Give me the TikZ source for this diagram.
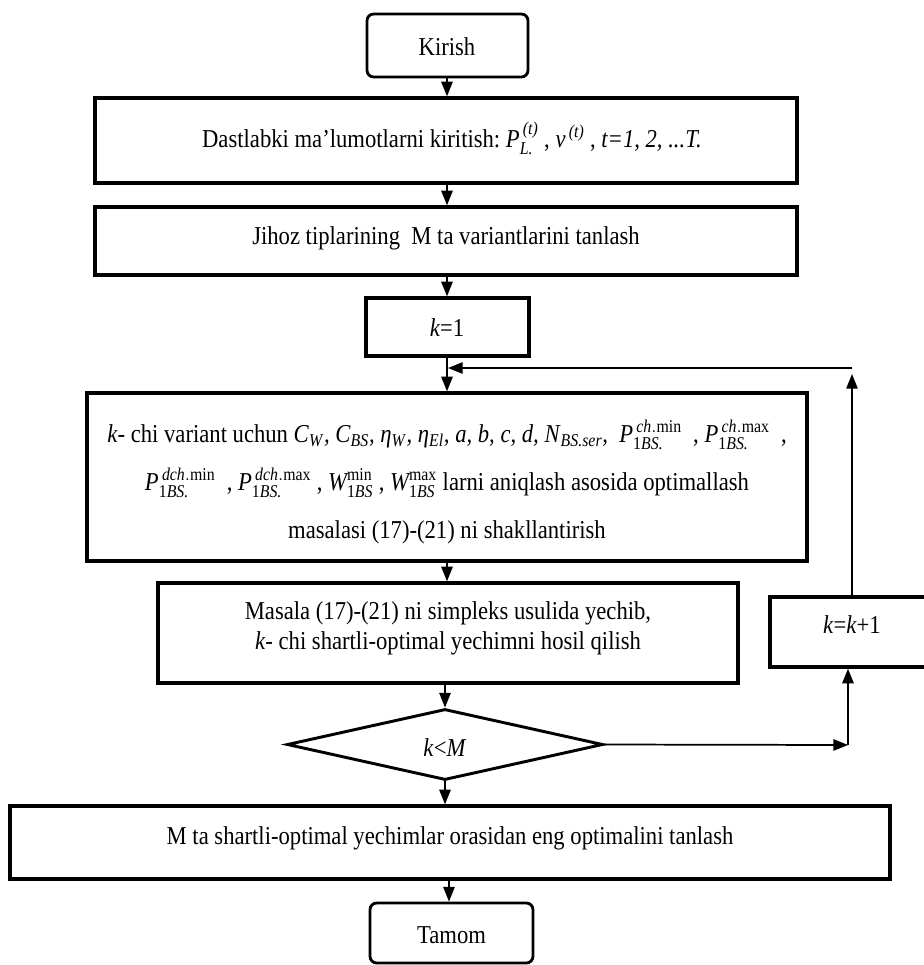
\documentclass[tikz,border=0pt]{standalone}
\usepackage{amsmath}
\usepackage{fontspec}
\setmainfont{Liberation Serif}[FakeStretch=0.88]
\usetikzlibrary{shapes.geometric,arrows.meta}
\newcommand\vi[1]{\textit{#1}}
\begin{document}
\begin{tikzpicture}[x=0.75pt,y=-0.75pt,
  every node/.style={font=\fontsize{19.3}{23}\selectfont},
  box/.style={draw,line width=2.5pt,rectangle,inner sep=0pt},
  term/.style={box,line width=2.1pt,rounded corners=5pt},
  dec/.style={draw,diamond,line width=2.2pt,inner sep=0pt},
  txt/.style={inner sep=0pt,align=center},
  conn/.style={line width=1.3pt,-{Triangle[length=11pt,width=8.5pt]}},
]
\clip (0,0) rectangle (924,965);
% boxes
\node[term,minimum width=120.75pt,minimum height=47.25pt] (kir) at (447.5,45.5) {};
\node[box,minimum width=526.5pt,minimum height=63.75pt] (dast) at (446,140.5) {};
\node[box,minimum width=526.5pt,minimum height=51pt] (jih) at (446,241) {};
\node[box,minimum width=122.25pt,minimum height=43.5pt] (k1) at (447.5,327) {};
\node[box,minimum width=540pt,minimum height=126pt] (big) at (447,477) {};
\node[box,minimum width=435pt,minimum height=75pt] (mas) at (448,633) {};
\node[dec,minimum width=237pt,minimum height=53.25pt] (dec) at (445,744.5) {};
\node[box,minimum width=123pt,minimum height=52.5pt] (kk) at (852,632) {};
\node[box,minimum width=660pt,minimum height=54.75pt] (fin) at (450,842.5) {};
\node[term,minimum width=122.25pt,minimum height=45pt] (tam) at (451.5,933) {};
% texts
\node[txt] (kirT) at (447,47) {Kirish};
\node[txt] (dastT) at (452,138) {Dastlabki ma’lumotlarni kiritish:\ $\vi{P}^{\,\vi{(t)}}_{\vi{L.}}$\ , $\vi{v}^{\,\vi{(t)}}$\ , \vi{t=1, 2, ...T.}};
\node[txt] (jihT) at (446,238) {Jihoz tiplarining\ \ M ta variantlarini tanlash};
\node[txt] (k1T) at (447,328) {\vi{k}=1};
\node[txt,font=\fontsize{19.3}{36}\selectfont] (bigT) at (447,482) {%
\vi{k}- chi variant uchun \vi{C}\textsubscript{\vi{W}}\vi{, C}\textsubscript{\vi{BS}}\vi{, η}\textsubscript{\vi{W}}\vi{, η}\textsubscript{\vi{El}}\vi{, a, b, c, d, N}\textsubscript{\vi{BS.ser}}\vi{,}\ \ $\vi{P}^{\,\vi{ch}.\textup{min}}_{\textup{1}\vi{BS.}}$\ \ ,\ $\vi{P}^{\,\vi{ch}.\textup{max}}_{\textup{1}\vi{BS.}}$\ \ ,\\
$\vi{P}^{\,\vi{dch}.\textup{min}}_{\textup{1}\vi{BS.}}$\ \ , $\vi{P}^{\,\vi{dch}.\textup{max}}_{\textup{1}\vi{BS.}}$ , $\vi{W}^{\textup{min}}_{\textup{1}\vi{BS}}$ , $\vi{W}^{\textup{max}}_{\textup{1}\vi{BS}}$ larni aniqlash asosida optimallash\\
masalasi (17)-(21) ni shakllantirish};
\node[txt,font=\fontsize{19.3}{22.5}\selectfont] (masT) at (448,628) {Masala (17)-(21) ni simpleks usulida yechib,\\ \vi{k}- chi shartli-optimal yechimni hosil qilish};
\node[txt] (decT) at (445,748) {\vi{k}<\vi{M}};
\node[txt] (kkT) at (852,625) {\vi{k}=\vi{k}+1};
\node[txt] (finT) at (450,838) {M ta shartli-optimal yechimlar orasidan eng optimalini tanlash};
\node[txt] (tamT) at (451.5,935) {Tamom};
% helper coordinates
\coordinate (colA) at (447,0);
\coordinate (colB) at (449,0);
\coordinate (c1) at (848,745);
\coordinate (c2) at (852,0);
\coordinate (c3) at (852,374);
\coordinate (c4) at (852,368);
\coordinate (c5) at (448,368);
% connectors
\draw[conn] (kir.south -| colA) -- (dast.north -| colA);
\draw[conn] (dast.south -| colA) -- (jih.north -| colA);
\draw[conn] (jih.south -| colA) -- (k1.north -| colA);
\draw[conn] (k1.south -| colA) -- (big.north -| colA);
\draw[conn] (big.south -| colA) -- (mas.north -| colA);
\draw[conn] (mas.south -| dec.north) -- (dec.north);
\draw[conn] (dec.south) -- (fin.north -| dec.south);
\draw[conn] (fin.south -| colB) -- (tam.north -| colB);
\draw[conn] (dec.east) -- (c1);
\draw[conn] (c1) -- (kk.south -| c1);
\draw[conn] (kk.north -| c2) -- (c3);
\draw[conn] (c4) -- (c5);
\end{tikzpicture}
\end{document}
